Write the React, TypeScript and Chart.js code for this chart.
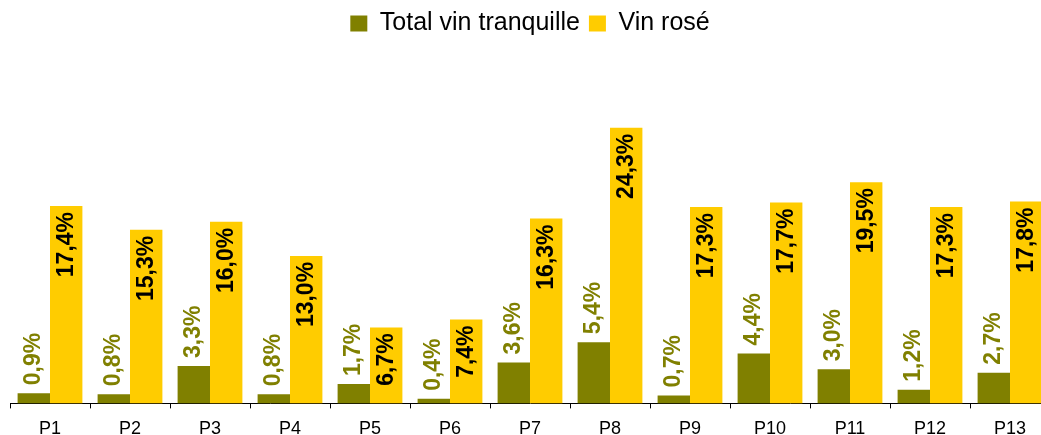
import React, { useEffect, useRef } from "react";
import { Chart, registerables } from "chart.js";

Chart.register(...registerables);

const categories = ["P1", "P2", "P3", "P4", "P5", "P6", "P7", "P8", "P9", "P10", "P11", "P12", "P13"];
const totalVinTranquille = [0.9, 0.8, 3.3, 0.8, 1.7, 0.4, 3.6, 5.4, 0.7, 4.4, 3.0, 1.2, 2.7];
const vinRose = [17.4, 15.3, 16.0, 13.0, 6.7, 7.4, 16.3, 24.3, 17.3, 17.7, 19.5, 17.3, 17.8];
const seriesNames = ["Total vin tranquille", "Vin rosé"];
const seriesColors = ["#808000", "#FFCC00"];
const labelColors = ["#808000", "#000000"];

const fmt = (v: number) => v.toFixed(1).replace(".", ",") + "%";

const labelPlugin = {
  id: "barLabels",
  afterDatasetsDraw(chart: any) {
    const ctx = chart.ctx;
    chart.data.datasets.forEach((ds: any, di: number) => {
      const meta = chart.getDatasetMeta(di);
      meta.data.forEach((el: any, i: number) => {
        const text = fmt(ds.data[i]);
        ctx.save();
        ctx.font = "bold 23px 'Liberation Sans', Arial, sans-serif";
        ctx.fillStyle = labelColors[di];
        ctx.textBaseline = "middle";
        if (di === 0) {
          ctx.translate(el.x, el.y - 8);
          ctx.rotate(-Math.PI / 2);
          ctx.textAlign = "left";
        } else {
          ctx.translate(el.x, el.y + 6);
          ctx.rotate(-Math.PI / 2);
          ctx.textAlign = "right";
        }
        ctx.fillText(text, 0, 0);
        ctx.restore();
      });
    });
  },
};

export default function App() {
  const ref = useRef<HTMLCanvasElement | null>(null);
  useEffect(() => {
    if (!ref.current) return;
    const chart = new Chart(ref.current, {
      type: "bar",
      data: {
        labels: categories,
        datasets: [
          { label: seriesNames[0], data: totalVinTranquille, backgroundColor: seriesColors[0], borderWidth: 0 },
          { label: seriesNames[1], data: vinRose, backgroundColor: seriesColors[1], borderWidth: 0 },
        ],
      },
      options: {
        responsive: false,
        animation: false,
        layout: { padding: { left: 10, right: 2, top: 2, bottom: 0 } },
        datasets: { bar: { categoryPercentage: 0.81, barPercentage: 1 } },
        plugins: {
          legend: {
            display: true,
            position: "top",
            labels: {
              boxWidth: 17,
              boxHeight: 16,
              padding: 9,
              color: "#000",
              font: { family: "'Liberation Sans', Arial, sans-serif", size: 25 },
            },
          },
          tooltip: { enabled: false },
        },
        scales: {
          x: {
            grid: { display: true, offset: true, drawOnChartArea: false, tickLength: 5, color: "#000" },
            border: { display: true, color: "#000", width: 1 },
            ticks: { color: "#000", font: { family: "'Liberation Sans', Arial, sans-serif", size: 18 }, padding: 10 },
          },
          y: {
            display: false,
            min: 0,
            max: 31.5,
          },
        },
      },
      plugins: [labelPlugin],
    });
    return () => chart.destroy();
  }, []);
  return (
    <div style={{ position: "fixed", left: 0, top: 0, width: 1041, height: 435, overflow: "hidden", background: "#fff" }}>
      <canvas ref={ref} width={1052} height={450} style={{ width: 1052, height: 450, display: "block" }} />
    </div>
  );
}
